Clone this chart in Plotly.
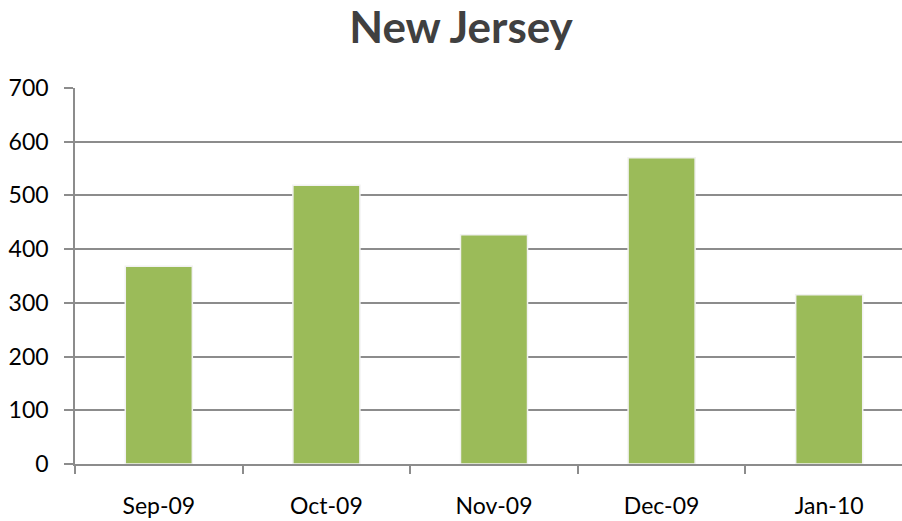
import plotly.graph_objects as go

categories = ["Sep-09", "Oct-09", "Nov-09", "Dec-09", "Jan-10"]
values = [368, 519, 427, 570, 315]
y_ticks = [0, 100, 200, 300, 400, 500, 600, 700]

W = 913  # figure extends slightly past the 902px window, as the reference is cropped on the right

fig = go.Figure()
fig.add_trace(go.Bar(
    x=categories, y=values,
    marker=dict(color="#9BBB59", line=dict(color="#F2F2F2", width=1.5)),
    width=0.40,
))

fig.update_layout(
    width=W, height=521,
    margin=dict(l=75, r=0, t=88, b=57),
    paper_bgcolor="white", plot_bgcolor="white",
    font=dict(family="Lato, Open Sans, sans-serif", size=23, color="#000000"),
    title=dict(text="<b>New Jersey</b>", x=461/W, xanchor="center",
               y=1 - 28/521, yanchor="middle", xref="container", yref="container",
               font=dict(size=44, color="#404040", family="Lato, Open Sans, sans-serif")),
    showlegend=False,
)
fig.update_yaxes(
    range=[0, 700], tickvals=y_ticks,
    showgrid=True, gridcolor="#8C8C8C", gridwidth=1.5,
    showline=True, linecolor="#8C8C8C", linewidth=1.5,
    ticks="outside", ticklen=9, tickcolor="#8C8C8C", tickwidth=1.5,
    ticklabelstandoff=11, zeroline=False, automargin=False,
)
fig.update_xaxes(
    showline=True, linecolor="#8C8C8C", linewidth=1.5,
    ticks="outside", ticklen=8, tickcolor="#8C8C8C", tickwidth=1.5,
    tickson="boundaries", showgrid=False,
    ticklabelstandoff=21, automargin=False,
)

fig.write_html("out.html", config={"displayModeBar": False},
               post_script="document.body.style.margin='0';document.body.style.overflow='hidden';")
